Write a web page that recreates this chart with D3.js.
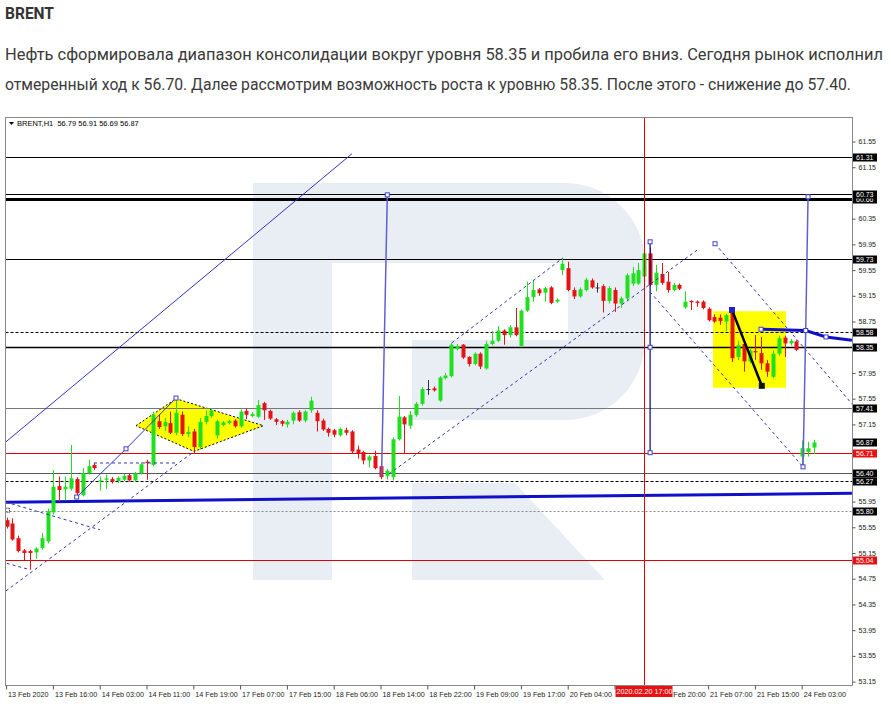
<!DOCTYPE html>
<html><head><meta charset="utf-8">
<script src="https://cdn.jsdelivr.net/npm/d3@7"></script>
<style>body{margin:0;background:#fff;}svg{display:block}</style>
</head><body>
<svg id="c" width="891" height="706"></svg>
<script>
// ---------- DATA ----------
const openP = [55.66,55.61,55.38,55.19,55.18,55.16,55.23,55.33,55.78,56.19,56.14,56.15,56.30,56.05,56.39,56.52,56.26,56.29,56.30,56.27,
56.29,56.36,56.28,56.39,56.57,56.52,57.20,57.12,57.17,57.02,57.30,57.00,57.04,56.80,57.19,57.28,56.98,57.14,57.17,57.21,
57.12,57.36,57.28,57.27,57.48,57.36,57.23,57.20,57.15,57.21,57.34,57.21,57.37,57.33,57.21,57.08,57.06,56.98,57.06,57.04,
56.76,56.72,56.59,56.66,56.50,56.35,56.33,56.92,57.26,57.13,57.30,57.47,57.70,57.71,57.52,57.87,57.90,58.32,58.39,58.20,
58.09,58.25,58.02,58.40,58.45,58.61,58.54,58.66,58.37,58.92,59.13,59.25,59.20,59.28,59.06,59.55,59.58,59.24,59.14,59.24,
59.39,59.28,59.30,59.07,59.24,59.03,59.11,59.34,59.34,59.45,59.81,59.32,59.49,59.37,59.24,59.32,58.97,59.07,59.06,59.06,
58.95,58.82,58.81,58.75,58.92,58.20,58.40,58.13,58.29,58.26,58.10,57.89,58.25,58.50,58.41,58.44,56.65,56.72,56.79];
const highP = [55.70,55.69,55.42,55.21,55.20,55.24,55.46,55.84,56.44,56.34,56.34,56.83,56.33,56.47,56.60,56.55,56.34,56.37,56.33,56.34,
56.38,56.38,56.41,56.56,56.60,57.35,57.30,57.25,57.35,57.57,57.35,57.12,57.08,57.25,57.37,57.40,57.22,57.20,57.22,57.23,
57.38,57.40,57.34,57.53,57.50,57.38,57.25,57.22,57.22,57.35,57.37,57.37,57.58,57.37,57.24,57.10,57.08,57.10,57.10,57.06,
56.82,56.74,56.67,56.74,56.52,56.46,56.95,57.59,57.28,57.36,57.50,57.73,57.84,57.74,57.90,57.95,58.42,58.40,58.40,58.21,
58.27,58.27,58.45,58.60,58.68,58.63,58.69,58.96,58.94,59.37,59.40,59.27,59.29,59.30,59.11,59.73,59.68,59.28,59.28,59.43,
59.42,59.35,59.33,59.30,59.28,59.14,59.50,59.60,59.66,59.87,59.90,59.63,59.66,59.52,59.35,59.34,59.22,59.08,59.08,59.08,
58.97,58.86,58.86,58.87,58.97,58.45,58.43,58.33,58.54,58.51,58.15,58.30,58.53,58.53,58.48,58.46,56.90,56.88,56.91];
const lowP = [55.53,55.34,55.16,55.04,54.89,55.06,55.20,55.30,55.75,55.95,55.97,56.12,56.05,56.03,56.37,56.44,56.12,56.15,56.23,56.24,
56.27,56.26,56.26,56.37,56.29,56.50,57.08,57.05,57.00,56.98,56.97,56.95,56.70,56.76,57.15,57.25,56.93,57.12,57.15,57.10,
57.10,57.23,57.26,57.25,57.22,57.22,57.14,57.12,57.10,57.15,57.19,57.18,57.33,57.04,57.05,56.96,56.95,56.96,56.98,56.70,
56.62,56.53,56.48,56.45,56.30,56.29,56.28,56.90,56.70,57.08,57.27,57.44,57.61,57.66,57.50,57.85,57.88,58.30,58.17,58.05,
58.07,58.01,58.00,58.38,58.43,58.39,58.50,58.52,58.35,58.90,59.06,59.15,59.06,59.02,59.04,59.47,59.22,59.10,59.12,59.22,
59.26,59.20,58.89,59.03,58.90,58.96,59.08,59.30,59.32,59.42,59.30,59.22,59.32,59.20,59.22,59.24,58.95,58.93,58.98,58.94,
58.75,58.73,58.70,58.60,58.12,58.15,57.97,58.10,58.15,58.00,57.89,57.87,58.22,58.20,58.38,58.29,56.49,56.65,56.69];
const closeP = [55.56,55.36,55.18,55.15,55.15,55.22,55.38,55.80,56.18,56.13,56.18,56.31,56.08,56.39,56.50,56.47,56.28,56.31,56.26,56.32,
56.35,56.28,56.39,56.53,56.55,57.30,57.11,57.19,57.02,57.33,57.00,57.03,56.80,57.19,57.28,57.37,57.20,57.18,57.20,57.12,
57.35,57.30,57.31,57.45,57.37,57.24,57.19,57.16,57.19,57.33,57.21,57.35,57.52,57.20,57.07,57.02,56.99,57.08,57.02,56.73,
56.70,56.59,56.65,56.47,56.33,56.43,56.92,57.27,57.15,57.30,57.47,57.70,57.70,57.68,57.88,57.91,58.39,58.37,58.19,58.09,
58.25,58.05,58.40,58.45,58.61,58.54,58.66,58.54,58.92,59.13,59.24,59.19,59.27,59.04,59.09,59.65,59.24,59.14,59.25,59.40,
59.28,59.28,59.07,59.27,59.03,59.11,59.47,59.50,59.55,59.81,59.32,59.51,59.35,59.24,59.32,59.26,59.06,59.05,59.04,58.96,
58.77,58.75,58.76,58.85,58.18,58.38,58.13,58.30,58.27,58.10,57.97,58.25,58.49,58.41,58.45,58.31,56.78,56.78,56.87];

const timeLabels = ["13 Feb 2020","13 Feb 16:00","14 Feb 03:00","14 Feb 11:00","14 Feb 19:00","17 Feb 07:00","17 Feb 15:00",
"18 Feb 06:00","18 Feb 14:00","18 Feb 22:00","19 Feb 09:00","19 Feb 17:00","20 Feb 04:00","20 Feb 12:00","20 Feb 20:00",
"21 Feb 07:00","21 Feb 15:00","24 Feb 03:00"];
const timeLabelIdx = [0,8,16,24,32,40,48,56,64,72,80,88,96,104,112,120,128,136];
const priceTicks = [61.55,61.15,60.75,60.35,59.95,59.55,59.15,58.75,58.35,57.95,57.55,57.15,56.75,56.35,55.95,55.55,55.15,54.75,54.35,53.95,53.55,53.15];
const levelPrices = [61.31,60.73,60.66,59.73,58.58,58.35,57.41,56.71,56.40,56.27,55.80,55.04];
const priceLabels = [61.31,60.66,60.73,59.73,58.58,58.35,57.41,56.87,56.71,56.40,56.27,55.80,55.04];
const redLabels = [56.71,55.04];
const crossIdx = 109, crossLabel = "2020.02.20 17:00";
const headerText = "BRENT,H1  56.79 56.91 56.69 56.87";
const title = "BRENT";
const para1 = "Нефть сформировала диапазон консолидации вокруг уровня 58.35 и пробила его вниз. Сегодня рынок исполнил";
const para2 = "отмеренный ход к 56.70. Далее рассмотрим возможность роста к уровню 58.35. После этого - снижение до 57.40.";

// drawn objects in (bar index, price)
const trendTopLeft = [[-0.1,56.88],[59.04,61.36]];
const chanLeftUpper = [[11.98,56.02],[20.41,56.77],[28.96,57.56]];
const chanLeftLower = [[-0.1,54.56],[32.21,56.74]];
const dashFlat = [[14.94,56.55],[28.96,56.55]];
const dashA = [[-0.1,55.94],[15.97,55.51]];
const dashB = [[0.02,54.99],[4.0,54.89]];
const diamond = [[22.12,57.13],[28.96,57.55],[43.88,57.13],[32.03,56.73]];
const vertA = [[65.08,60.72],[64.09,56.34]];
const riseLower = [[65.37,56.38],[118.02,59.86]];
const riseUpper = [[76.14,58.42],[95.11,59.74]];
const vertB = [[110,59.99],[110,58.35],[110,56.71]];
const descUpper = [[121.1,59.96],[144.5,57.47]];
const descLower = [[110,59.21],[136.14,56.49]];
const vertC = [[137.0,60.69],[136.6,58.61],[136.14,56.49]];
const thickRight = [[128.96,58.63],[136.6,58.61],[140.07,58.51],[144.5,58.46]];
const thickBottom = [[-0.3,55.94],[144.5,56.08]];
const boxYellow = [[120.75,58.91],[133.23,57.72]];
const zigzag = [[124.0,58.93],[126.55,58.34],[129.1,57.75]];

// ---------- DRAW ----------
const svg = d3.select("#c");
const L=5.5, T=117.5, R=852.5, B=685.5;
const x = d3.scaleLinear().domain([0,138]).range([6.6, 6.6+5.85*138]);
const y = d3.scaleLinear().domain([53.15,61.55]).range([681.6,141.5]);
const line = d3.line().x(d=>x(d[0])).y(d=>y(d[1]));

svg.append("rect").attr("width",891).attr("height",706).attr("fill","#fff");
svg.append("defs").append("clipPath").attr("id","clip").append("rect")
  .attr("x",L+0.5).attr("y",T+0.5).attr("width",R-L-1).attr("height",B-T-1);

// text block
const txtFont = "Roboto, 'Open Sans', sans-serif";
svg.append("text").attr("x",5).attr("y",19).attr("font-family",txtFont).attr("font-weight","bold")
  .attr("font-size",17).attr("fill","#333").attr("textLength",49).attr("lengthAdjust","spacingAndGlyphs").text(title);
svg.append("text").attr("x",5).attr("y",60).attr("font-family",txtFont).attr("font-size",16)
  .attr("fill","#3a3a3a").attr("textLength",878).attr("lengthAdjust","spacingAndGlyphs").text(para1);
svg.append("text").attr("x",5).attr("y",90).attr("font-family",txtFont).attr("font-size",16)
  .attr("fill","#3a3a3a").attr("textLength",846).attr("lengthAdjust","spacingAndGlyphs").text(para2);

const plot = svg.append("g").attr("clip-path","url(#clip)");
// watermark
const wm = "#e9edf4";
plot.append("rect").attr("x",253).attr("y",183).attr("width",79).attr("height",397).attr("fill",wm);
plot.append("path").attr("fill",wm)
  .attr("d","M332,183 H565 A80,80 0 0 1 645,263 V340 A80,80 0 0 1 565,420 H412 V340 H568 V263 H332 Z");
plot.append("path").attr("fill",wm).attr("d","M412,483 H515 L605,580 H412 Z");

// yellow shapes
plot.append("path").attr("d",line(diamond)+"Z").attr("fill","#ffff00").attr("stroke","#000")
  .attr("stroke-width",1).attr("stroke-dasharray","2,2");
plot.append("rect").attr("x",x(boxYellow[0][0])).attr("y",y(boxYellow[0][1]))
  .attr("width",x(boxYellow[1][0])-x(boxYellow[0][0])).attr("height",y(boxYellow[1][1])-y(boxYellow[0][1]))
  .attr("fill","#ffff00");

// horizontal levels
const lvlStyle = {
  61.31:{c:"#000",w:1,d:null}, 60.73:{c:"#000",w:1,d:null}, 60.66:{c:"#000",w:3,d:null},
  59.73:{c:"#000",w:1,d:null}, 58.58:{c:"#000",w:1,d:"3,2"}, 58.35:{c:"#000",w:1.3,d:null},
  57.41:{c:"#777",w:1,d:null}, 56.71:{c:"#e00000",w:1,d:null}, 56.40:{c:"#555",w:1,d:null},
  56.27:{c:"#000",w:1,d:"3,2"}, 55.80:{c:"#888",w:1,d:"2,2"}, 55.04:{c:"#e00000",w:1,d:null}
};
plot.selectAll("line.lvl").data(levelPrices).join("line").attr("class","lvl")
  .attr("x1",L).attr("x2",R)
  .attr("y1",d=>Math.round(y(d))+0.5).attr("y2",d=>Math.round(y(d))+0.5)
  .attr("stroke",d=>lvlStyle[d].c).attr("stroke-width",d=>lvlStyle[d].w)
  .attr("stroke-dasharray",d=>lvlStyle[d].d);

// thick blue bottom trend
plot.append("path").attr("d",line(thickBottom)).attr("stroke","#1010c8").attr("stroke-width",3).attr("fill","none");

// candles
const data = openP.map((o,i)=>({i,o,h:highP[i],l:lowP[i],c:closeP[i]}));
const col = d=> d.c>d.o ? "#1ee01e" : (d.c<d.o ? "#e41414" : "#333");
const cx = d=> Math.round(x(d.i));
plot.selectAll("line.wick").data(data).join("line").attr("class","wick")
  .attr("x1",d=>cx(d)+0.5).attr("x2",d=>cx(d)+0.5)
  .attr("y1",d=>y(d.h)).attr("y2",d=>y(d.l)).attr("stroke",col).attr("stroke-width",1);
plot.selectAll("rect.body").data(data).join("rect").attr("class","body")
  .attr("x",d=>cx(d)-1.5).attr("width",4)
  .attr("y",d=>y(Math.max(d.o,d.c)))
  .attr("height",d=>Math.max(1,Math.abs(y(d.o)-y(d.c))))
  .attr("fill",col);

// trend lines & channels
const thin = (pts,c,w,dash)=>plot.append("path").attr("d",line(pts)).attr("fill","none")
  .attr("stroke",c).attr("stroke-width",w).attr("stroke-dasharray",dash||null);
thin(trendTopLeft,"#3434c0",1);
thin(chanLeftUpper,"#3434c0",1);
thin(chanLeftLower,"#3434b0",1,"3,3");
thin(dashFlat,"#3434b0",1,"3,3");
thin(dashA,"#3434b0",1,"3,3");
thin(dashB,"#3434b0",1,"3,3");
thin(vertA,"#6060d0",1.5);
thin(riseLower,"#3434b0",1,"3,3");
thin(riseUpper,"#3434b0",1,"3,3");
thin(vertB,"#000080",1.2);
thin(descUpper,"#3434b0",1,"3,3");
thin(descLower,"#3434b0",1,"3,3");
thin(vertC,"#6060d0",1.5);
thin(thickRight,"#1010c8",3);
thin(zigzag,"#000",2.5);

// markers
const markers = [chanLeftUpper[0],chanLeftUpper[1],chanLeftUpper[2],vertA[0],vertB[0],vertB[1],vertB[2],
  descUpper[0],vertC[0],vertC[1],vertC[2],thickRight[0],thickRight[2]];
plot.selectAll("rect.mk").data(markers).join("rect").attr("class","mk")
  .attr("x",d=>x(d[0])-2).attr("y",d=>y(d[1])-2).attr("width",4).attr("height",4)
  .attr("fill","#fff").attr("stroke","#4040c8").attr("stroke-width",1);
plot.selectAll("rect.zk").data([zigzag[0],zigzag[2]]).join("rect").attr("class","zk")
  .attr("x",d=>x(d[0])-3).attr("y",d=>y(d[1])-3).attr("width",6).attr("height",6)
  .attr("fill",(d,i)=>i?"#111":"#2020d0");
plot.append("rect").attr("x",x(0)-1).attr("y",y(55.80)-3).attr("width",4).attr("height",4)
  .attr("fill","none").attr("stroke","#000").attr("stroke-dasharray","1,1");

// crosshair
plot.append("line").attr("x1",Math.round(x(crossIdx))+0.5).attr("x2",Math.round(x(crossIdx))+0.5)
  .attr("y1",T).attr("y2",B).attr("stroke","#e00000").attr("stroke-width",1);

// header text
svg.append("path").attr("d","M9,122 L14,122 L11.5,125 Z").attr("fill","#000");
svg.append("text").attr("x",17).attr("y",126).attr("font-family","'Liberation Sans',Arial,sans-serif")
  .attr("font-size",7.5).attr("fill","#000").attr("xml:space","preserve").text(headerText);

// frame
svg.append("rect").attr("x",L).attr("y",T).attr("width",R-L).attr("height",B-T)
  .attr("fill","none").attr("stroke","#888").attr("stroke-width",1);

// axes
const axFont = "'Liberation Sans',Arial,sans-serif";
const crossX = Math.round(x(crossIdx))+0.5;
// time labels whose text would lie entirely under the crosshair label are hidden (as in the terminal)
const hiddenTime = i => { const s = x(timeLabelIdx[i]); return s > crossX-30 && s+40 < crossX+30; };
const xAxis = svg.append("g").attr("transform",`translate(0,${B})`)
  .call(d3.axisBottom(x).tickValues(timeLabelIdx).tickFormat((d,i)=>hiddenTime(i)?"":timeLabels[i]).tickSize(4).tickSizeOuter(0));
xAxis.select(".domain").remove();
xAxis.selectAll(".tick line").attr("stroke","#555").attr("transform","translate(-0.5,0)");
xAxis.selectAll(".tick text").attr("text-anchor","start").attr("x",1).attr("y",6.5)
  .attr("font-family",axFont).attr("font-size",7.2).attr("fill","#222");

const visibleTicks = priceTicks.filter(t=>priceLabels.every(p=>Math.abs(y(p)-y(t))>6));
const yAxis = svg.append("g").attr("transform",`translate(${R},0)`)
  .call(d3.axisRight(y).tickValues(visibleTicks).tickFormat(d3.format(".2f")).tickSize(3).tickSizeOuter(0));
yAxis.select(".domain").remove();
yAxis.selectAll(".tick line").attr("stroke","#555");
yAxis.selectAll(".tick text").attr("x",6).attr("dy","0.3em").attr("font-family",axFont).attr("font-size",7).attr("fill","#222");

// price labels
const pl = svg.selectAll("g.pl").data(priceLabels).join("g").attr("class","pl")
  .attr("transform",d=>`translate(${R+0.5},${Math.round(y(d))})`);
pl.append("rect").attr("x",0).attr("y",-3.5).attr("width",24).attr("height",8)
  .attr("fill",d=>redLabels.includes(d)?"#e81010":"#000");
pl.append("text").attr("x",3).attr("y",3).attr("font-family",axFont).attr("font-size",7)
  .attr("fill","#fff").text(d=>d.toFixed(2));

// crosshair time label
const cl = svg.append("g").attr("transform",`translate(${crossX},${B+0.5})`);
cl.append("rect").attr("x",-29).attr("y",0).attr("width",57).attr("height",11).attr("fill","#e81010");
cl.append("text").attr("x",0).attr("y",8).attr("text-anchor","middle").attr("font-family",axFont)
  .attr("font-size",7.2).attr("fill","#fff").text(crossLabel);
</script>
</body></html>
